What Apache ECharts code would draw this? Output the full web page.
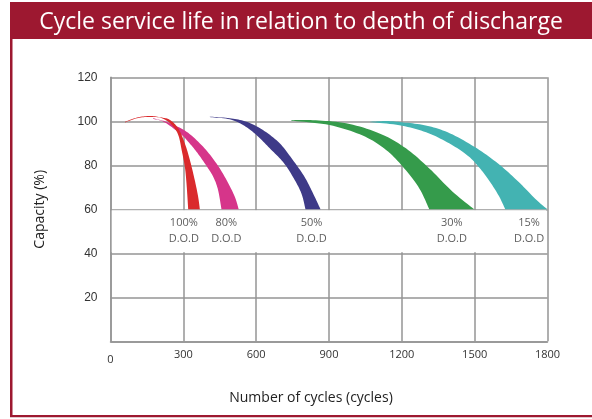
<!DOCTYPE html>
<html>
<head>
<meta charset="utf-8">
<script src="https://cdn.jsdelivr.net/npm/echarts@6/dist/echarts.min.js"></script>
<style>
html,body{margin:0;padding:0;background:#fff;}
#c{width:592px;height:419px;}
</style>
</head>
<body>
<div id="c"></div>
<script>
// ---- data ----
const chartTitle = 'Cycle service life in relation to depth of discharge';
const xName = 'Number of cycles (cycles)';
const yName = 'Capacity (%)';

const dodLabels = ['100%', '80%', '50%', '30%', '15%'];
const dodLabelX = [302, 477, 828, 1406, 1724];
const dodLabelY = [50, 50, 50, 50, 50];

// band edges [cycles, capacity], both from start to end
const dod100Upper = [[60,99.8],[109,101.7],[162,102.4],[212,101.7],[245,100.6],[279,96.8],[306,90],[327,82.4],[347,73.3],[361,65.7],[368,60]];
const dod100Lower = [[60,99.5],[109,101.4],[162,102],[212,101.4],[253,98.3],[279,93.8],[293,87],[306,79.4],[313,71.8],[320,60]];

const dod80Upper = [[176,101.4],[212,100.4],[245,99.1],[313,95.3],[381,88.5],[436,80.9],[478,73.3],[512,65.7],[528,60]];
const dod80Lower = [[176,101.1],[224,99.5],[293,93.8],[320,90.7],[354,86.2],[393,80.1],[423,74.8],[443,68.8],[457,60]];

const dod50Upper = [[409,102.1],[491,101.4],[560,99.8],[628,96],[697,90],[751,82.4],[799,74.8],[834,67.3],[865,60]];
const dod50Lower = [[409,101.9],[491,100.9],[546,98.3],[601,93.8],[656,87.7],[710,81.6],[751,74.8],[786,67.3],[803,60]];

const dod30Upper = [[745,100.6],[834,100.5],[971,99.1],[1108,94.5],[1217,87.7],[1313,78.6],[1409,68],[1498,60]];
const dod30Lower = [[745,100.3],[902,98.3],[1039,93.5],[1135,87],[1210,78.6],[1272,69.5],[1313,60]];

const dod15Upper = [[1070,99.8],[1138,100.1],[1207,99.5],[1303,98],[1399,94.5],[1509,87.7],[1604,80.1],[1687,71.8],[1755,64.2],[1800,60]];
const dod15Lower = [[1070,99.6],[1190,98.2],[1300,95],[1395,90],[1470,84.5],[1515,79.5],[1560,73],[1600,66],[1626,60]];

// ---- chart ----
const gridGray = '#949494';
const chart = echarts.init(document.getElementById('c'), null, {renderer:'canvas'});

// Catmull-Rom rendering of an edge through its pixel points
function splinePx(pts, n) {
  const out = [];
  const L = pts.length;
  for (let i = 0; i < L - 1; i++) {
    const p0 = pts[Math.max(i - 1, 0)], p1 = pts[i], p2 = pts[i + 1], p3 = pts[Math.min(i + 2, L - 1)];
    for (let k = 0; k < n; k++) {
      const t = k / n, t2 = t * t, t3 = t2 * t;
      const f = j => 0.5 * (2 * p1[j] + (-p0[j] + p2[j]) * t + (2 * p0[j] - 5 * p1[j] + 4 * p2[j] - p3[j]) * t2 + (-p0[j] + 3 * p1[j] - 3 * p2[j] + p3[j]) * t3);
      out.push([f(0), f(1)]);
    }
  }
  out.push(pts[L - 1]);
  return out;
}

function band(name, upper, lower, color, z) {
  const pts = upper.concat(lower);
  return {
    type: 'custom', name: name, z: z, silent: true,
    coordinateSystem: 'cartesian2d',
    data: pts,
    encode: {x: 0, y: 1},
    renderItem: function (params, api) {
      if (params.dataIndex !== 0) return null;
      const up = splinePx(upper.map(p => api.coord(p)), 10);
      const lo = splinePx(lower.map(p => api.coord(p)), 10).reverse();
      return {
        type: 'polygon',
        shape: {points: up.concat(lo)},
        style: {fill: color}
      };
    }
  };
}

const option = {
  animation: false,
  grid: {left: 110.5, right: 44.5, top: 77.3, bottom: 77.7},
  xAxis: {
    type: 'value', min: 0, max: 1800, interval: 300,
    axisLine: {show: true, lineStyle: {color: gridGray, width: 1.5}},
    axisTick: {show: false},
    splitLine: {show: true, lineStyle: {color: gridGray, width: 1.5}},
    axisLabel: {
      color: '#333', fontFamily: 'Open Sans', fontSize: 11, margin: 8,
      formatter: v => v === 0 ? '{z|0}' : String(v),
      rich: {z: {padding: [5, 0, 0, 0], color: '#333', fontFamily: 'Open Sans', fontSize: 11}}
    }
  },
  yAxis: {
    type: 'value', min: 0, max: 120, interval: 20,
    name: yName, nameLocation: 'middle', nameGap: 63,
    nameTextStyle: {color: '#222', fontFamily: 'Open Sans', fontSize: 14},
    axisLine: {show: true, lineStyle: {color: gridGray, width: 1.5}},
    axisTick: {show: false},
    splitLine: {show: true, lineStyle: {color: gridGray, width: 1.5}},
    axisLabel: {
      color: '#333', fontFamily: 'Liberation Sans', fontSize: 12, margin: 13,
      formatter: v => v === 0 ? '' : String(v)
    }
  },
  graphic: [
    {type: 'rect', shape: {x: 10, y: 2, width: 582, height: 37}, style: {fill: '#9d1830'}},
    {type: 'rect', shape: {x: 10, y: 39, width: 2.5, height: 378}, style: {fill: '#9d1830'}},
    {type: 'rect', shape: {x: 10, y: 415, width: 582, height: 2.3}, style: {fill: '#9d1830'}},
    {type: 'text', x: 301, y: 22,
     style: {text: chartTitle, fill: '#fff', font: '23px "Open Sans"', textAlign: 'center', textVerticalAlign: 'middle'}},
    {type: 'text', x: 311, y: 398,
     style: {text: xName, fill: '#222', font: '14px "Open Sans"', textAlign: 'center', textVerticalAlign: 'middle'}}
  ],
  series: [
    {
      type: 'scatter', z: 1, silent: true, symbolSize: 0, data: [],
      markArea: {
        silent: true,
        itemStyle: {color: '#fff'},
        data: [[{coord: [5, 40.45]}, {coord: [1795, 59.55]}]]
      }
    },
    band('80% D.O.D', dod80Upper, dod80Lower, '#d6358a', 2),
    band('100% D.O.D', dod100Upper, dod100Lower, '#da2a2c', 3),
    band('50% D.O.D', dod50Upper, dod50Lower, '#3e3a88', 2),
    band('30% D.O.D', dod30Upper, dod30Lower, '#359b4b', 2),
    band('15% D.O.D', dod15Upper, dod15Lower, '#43b3b2', 2),
    {
      type: 'scatter', z: 5, silent: true, symbolSize: 0,
      data: dodLabelX.map((x, i) => ({value: [x, dodLabelY[i]], name: dodLabels[i]})),
      label: {
        show: true, position: 'inside',
        formatter: p => p.name + '\nD.O.D',
        color: '#333', fontFamily: 'Open Sans', fontSize: 11, lineHeight: 16, align: 'center'
      }
    }
  ]
};
chart.setOption(option);
</script>
</body>
</html>
